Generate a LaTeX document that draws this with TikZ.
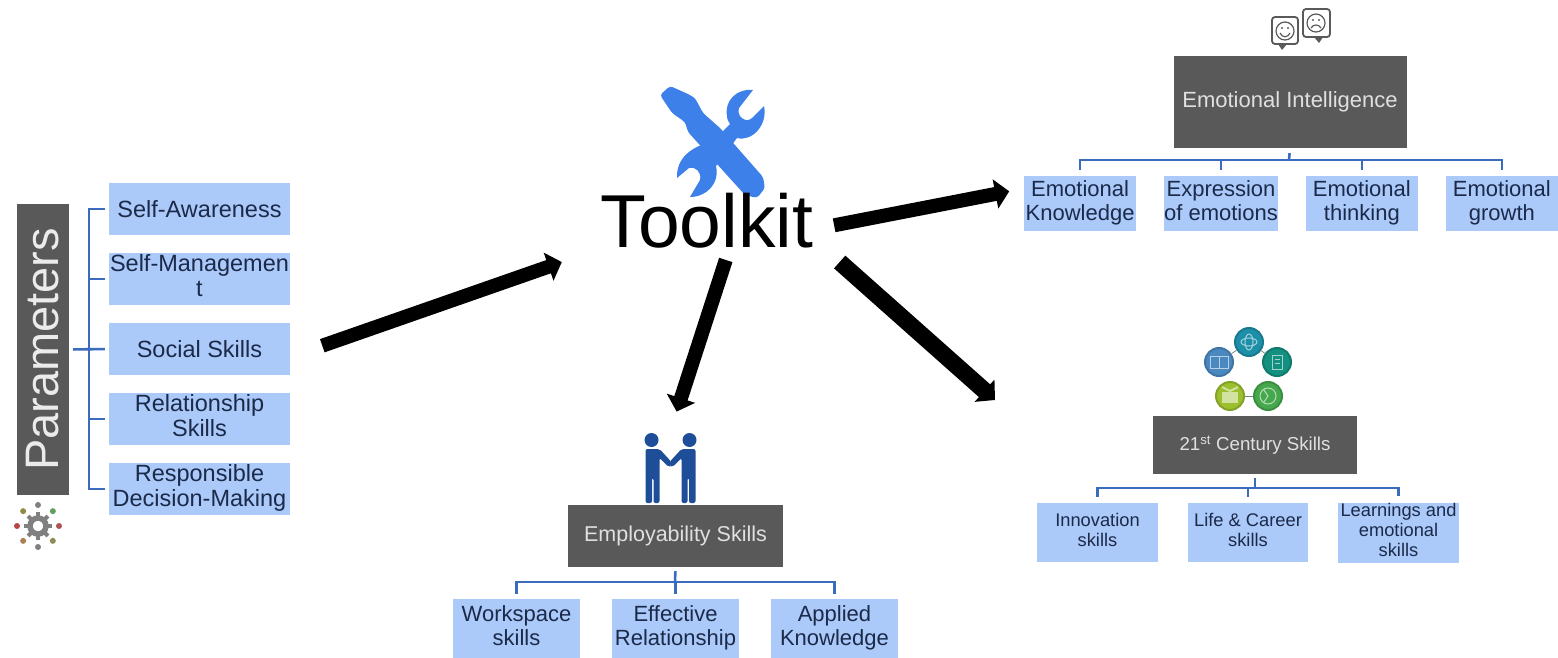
\documentclass[tikz,border=0pt]{standalone}
\usepackage{fontspec}
\setmainfont{Liberation Sans}
\usetikzlibrary{matrix,arrows.meta}
\definecolor{boxgray}{HTML}{595959}
\definecolor{boxblue}{HTML}{ABC9F9}
\definecolor{inkblue}{HTML}{1B2A49}
\definecolor{treeblue}{HTML}{3A6BBF}
\definecolor{toolblue}{HTML}{3D80EA}
\definecolor{peopleblue}{HTML}{1F4E98}
\definecolor{facegray}{HTML}{5A5A5A}
\definecolor{ballteal}{HTML}{1E8FA8}
\definecolor{ballsea}{HTML}{13907F}
\definecolor{ballgreen}{HTML}{46A84C}
\definecolor{balllime}{HTML}{9BBF2D}
\definecolor{ballblue}{HTML}{4A88C0}
\newcommand{\stacked}[1]{\begin{tabular}{@{}c@{}}#1\end{tabular}}
\tikzset{
  centered/.style = { align=center, anchor=center },
      head/.style = { centered, fill=boxgray, text=black!12, inner sep=0pt },
       sub/.style = { centered, fill=boxblue, text=inkblue, inner sep=0pt },
     arrow/.style = { line width=14pt, color=black, -{Triangle[length=14pt,width=29pt]} },
      tree/.style = { line width=2.6pt, color=treeblue },
      ball/.style = { circle, minimum size=28pt, inner sep=0pt, line width=2pt },
      link/.style = { line width=0.8pt, color=gray }
}

\begin{document}
\begin{tikzpicture}[x=1pt,y=-1pt]
  \useasboundingbox (0,0) rectangle (1558,658);

  % toolkit icon
  \fill[toolblue, rounded corners=3pt] (660,95) -- (670,86) -- (688,94) -- (695,98) -- (703,113)
    -- (720,128) -- (763,177) -- (765,188) -- (757,198) -- (745,195) -- (688,132) -- (685,122) -- (672,113) -- cycle;
  \fill[toolblue] (753,90) .. controls (738,88) and (724,100) .. (727,116) .. controls (727,120) and (729,122) .. (730,124)
    -- (712,142) .. controls (692,146) and (676,158) .. (677,178) -- (689,168) .. controls (695,166) and (702,172) .. (700,180)
    -- (690,197) .. controls (706,197) and (720,184) .. (716,166) -- (737,138) .. controls (752,142) and (768,125) .. (764,106)
    -- (752,118) .. controls (746,124) and (736,116) .. (739,108) -- cycle;
  \node[centered, inner xsep=0pt, inner ysep=8pt, text height=54pt, text depth=0pt,
        font=\fontsize{75}{75}\selectfont] (toolkit) at (707,220) {Toolkit};

  % parameters
  \node[head, rotate=90, minimum width=291pt, minimum height=52pt,
        text=white!92!black, font=\fontsize{47}{47}\selectfont] (parameters) at (43,349.5) {Parameters};
  \matrix (pm) at (199.5,349)
    [
      matrix of nodes,
      inner sep = 0pt,
      row sep   = 18pt,
      nodes     = { sub, minimum width=181pt, minimum height=52pt, font=\fontsize{23.5}{25}\selectfont },
    ]
    {
      Self-Awareness\\
      \stacked{Self-Managemen\\t}\\
      Social Skills\\
      \stacked{Relationship\\Skills}\\
      \stacked{Responsible\\Decision-Making}\\
    };
  \coordinate (pbus) at (89,349);
  \foreach \i in {1,...,5}
    \draw[tree] ([xshift=-4pt]pm-\i-1.west) -| (pbus);
  \draw[tree, shorten <=4pt, shorten >=4pt] (parameters.south) -- (pm-3-1.west);

  % gear
  \foreach \a/\c in {0/red!35!gray,45/green!25!gray,90/gray,135/olive!50!gray,180/red!45!gray,225/brown!70!gray,270/gray,315/olive!40!gray}
    \fill[\c] (38,526) ++(\a:21pt) circle (3pt);
  \foreach \a in {0,45,...,315}
    \draw[gray, line width=4pt] (38,526) ++(\a:9pt) -- ++(\a:5pt);
  \draw[gray, line width=5.5pt] (38,526) circle (8pt);

  % emotional intelligence
  \node[head, minimum width=233pt, minimum height=92pt, font=\fontsize{22}{24}\selectfont] (emotional) at (1290,102) {Emotional Intelligence};
  \matrix (em) at (1291,203.5)
    [
      matrix of nodes,
      inner sep       = 0pt,
      column sep      = 28pt,
      nodes           = { sub, minimum width=112pt, minimum height=55pt, font=\fontsize{22}{24}\selectfont },
    ]
    {
      \stacked{Emotional\\Knowledge}& \stacked{Expression\\of emotions}& \stacked{Emotional\\thinking}& \stacked{Emotional\\growth}\\
    };
  \coordinate (ebus) at (1289,160);
  \foreach \i in {1,...,4}
    \draw[tree] ([yshift=6pt]em-1-\i.north) |- (ebus);
  \draw[tree, shorten <=5pt] (emotional.south) -- (ebus);

  % faces
  \draw[facegray, line width=1.8pt, rounded corners=3pt, fill=white] (1272,17) rectangle (1298,44);
  \fill[facegray] (1278,44) -- (1282,50) -- (1287,44) -- cycle;
  \draw[facegray, line width=1.2pt] (1285,31) circle (9pt);
  \fill[facegray] (1282,28) circle (1.2pt) (1288,28) circle (1.2pt);
  \draw[facegray, line width=1.2pt] (1280,33) .. controls (1282,38) and (1288,38) .. (1290,33);
  \draw[facegray, line width=1.8pt, rounded corners=3pt, fill=white] (1303,9) rectangle (1330,37);
  \fill[facegray] (1314,37) -- (1319,43) -- (1323,37) -- cycle;
  \draw[facegray, line width=1.2pt] (1316,23) circle (9pt);
  \fill[facegray] (1313,20) circle (1.2pt) (1319,20) circle (1.2pt);
  \draw[facegray, line width=1.2pt] (1311,28) .. controls (1313,24) and (1319,24) .. (1321,28);

  % 21st century skills
  \node[head, minimum width=204pt, minimum height=58pt, font=\fontsize{18.7}{20}\selectfont] (century) at (1255,445) {21\textsuperscript{st} Century Skills};
  \matrix (cm) at (1248,532.5)
    [
      matrix of nodes,
      inner sep       = 0pt,
      column sep      = 30pt,
      nodes           = { sub, minimum width=120.5pt, minimum height=59pt, font=\fontsize{18.3}{20}\selectfont },
    ]
    {
      \stacked{Innovation\\skills}& \stacked{Life \& Career\\skills}& \stacked{Learnings and\\emotional\\skills}\\
    };
  \coordinate (cbus) at (1255,488);
  \foreach \i in {1,...,3}
    \draw[tree] ([yshift=6pt]cm-1-\i.north) |- (cbus);
  \draw[tree, shorten <=4pt] (century.south) -- (cbus);

  % skill balls
  \node[ball, fill=ballteal, draw=ballteal!85!black] (atom) at (1249,342) {};
  \node[ball, fill=ballsea, draw=ballsea!85!black] (note) at (1277,362) {};
  \node[ball, fill=ballgreen, draw=ballgreen!85!black] (globe) at (1268,396) {};
  \node[ball, fill=balllime, draw=balllime!85!black] (bag) at (1230,396) {};
  \node[ball, fill=ballblue, draw=ballblue!85!black] (book) at (1219,362) {};
  \draw[link] (book) -- (atom);
  \draw[link] (atom) -- (note);
  \draw[link] (bag) -- (globe);
  \draw[white!60!ballteal, line width=1pt] (atom.center) ellipse (8pt and 4pt) (atom.center) ellipse (4pt and 8pt);
  \draw[white!60!ballsea, line width=1pt] (1272,355) rectangle (1282,369) (1275,359) -- (1280,359) (1275,363) -- (1280,363);
  \draw[white!60!ballgreen, line width=1pt] (globe.center) circle (8pt) (1264,390) -- (1268,396) -- (1264,402);
  \fill[white!55!balllime] (1222,392) rectangle (1238,403);
  \draw[white!55!balllime, line width=2pt] (1222,387) -- (1230,391) -- (1238,387);
  \draw[white!60!ballblue, line width=1pt] (1210,356) rectangle (1228,368) (1219,356) -- (1219,368);

  % employability skills
  \node[head, minimum width=215pt, minimum height=62pt, font=\fontsize{21.5}{24}\selectfont] (employ) at (675.5,536) {Employability Skills};
  \matrix (sm) at (675.5,628.5)
    [
      matrix of nodes,
      inner sep       = 0pt,
      column sep      = 32pt,
      nodes           = { sub, minimum width=127pt, minimum height=59pt, font=\fontsize{22}{24}\selectfont },
    ]
    {
      \stacked{Workspace\\skills}& \stacked{Effective\\Relationship}& \stacked{Applied\\Knowledge}\\
    };
  \coordinate (sbus) at (675,582);
  \foreach \i in {1,...,3}
    \draw[tree] ([yshift=5pt]sm-1-\i.north) |- (sbus);
  \draw[tree, shorten <=4pt] (employ.south) -- (sbus);

  % people
  \foreach \s in {1,-1} {
    \begin{scope}[shift={(670.5,0)},xscale=\s]
      \fill[peopleblue] (-19,440) circle (7pt);
      \fill[peopleblue, rounded corners=2pt] (-25,503) -- (-25,449) -- (-11,449) -- (1,462) -- (1,466) -- (-2,467)
        -- (-11,458) -- (-11,503) -- (-17,503) -- (-17,478) -- (-18.5,478) -- (-18.5,503) -- cycle;
    \end{scope}
  }

  % big arrows
  \coordinate (toCentury) at (995,400);
  \draw[arrow, shorten <=34pt, shorten >=41pt] (pm-3-1.-5) -- (toolkit.195.1);
  \draw[arrow, shorten <=21pt, shorten >=15pt] (toolkit.-5.9) -- (em-1-1.165);
  \draw[arrow, shorten <=5pt, shorten >=98pt] (toolkit.-60.7) -- (employ.133);
  \draw[arrow, line width=17pt, shorten <=35pt] (toolkit.-10.1) -- (toCentury);
\end{tikzpicture}
\end{document}
